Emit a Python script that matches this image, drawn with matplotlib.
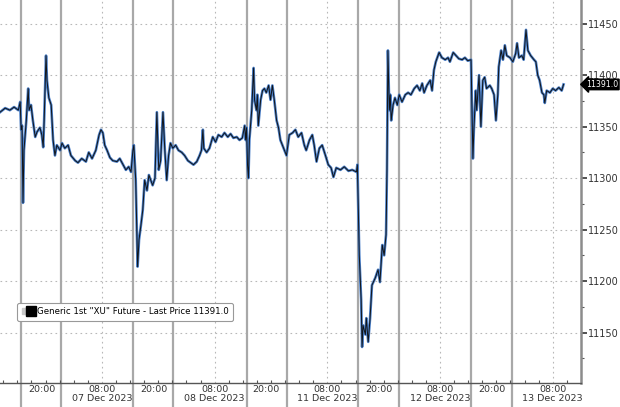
"""
Generic 1st "XU" Future, intraday, 6-13 Dec 2023.
"""
import matplotlib
matplotlib.use('Agg')
import matplotlib.pyplot as plt
import matplotlib.transforms as mtransforms
from matplotlib.lines import Line2D
from matplotlib.legend_handler import HandlerTuple

# trading hours since 6 Dec 08:00 (weekend taken out of the axis)
hours = [2.3, 3.4, 4.4, 5.3, 6.2, 6.6, 6.8, 7.0, 7.2, 7.4, 7.9, 8.3, 8.5, 8.9, 9.3, 9.8,
         10.2, 10.8, 11.2, 11.5, 11.7, 12.1, 12.3, 12.7, 13.2, 13.6, 14.0, 14.4, 15.1,
         15.5, 16.1, 16.8, 17.4, 18.3, 18.9, 19.7, 20.6, 21.2, 21.9, 22.7, 23.4, 23.8,
         24.2, 24.6, 25.1, 25.7, 26.3, 27.2, 27.8, 28.5, 29.1, 29.7, 30.2, 30.6, 30.8,
         31.2, 31.6, 31.9, 32.3, 32.7, 33.1, 33.6, 34.0, 34.4, 34.8, 35.3, 35.7, 35.9,
         36.1, 36.5, 37.0, 37.4, 37.8, 38.2, 38.6, 39.1, 39.7, 40.3, 41.0, 41.6, 42.3,
         42.9, 43.5, 44.2, 44.8, 45.2, 45.5, 45.7, 46.3, 46.9, 47.6, 48.2, 48.8, 49.5,
         50.1, 50.8, 51.4, 52.0, 52.7, 53.3, 53.9, 54.4, 54.6, 54.8, 55.0, 55.2, 55.4,
         55.9, 56.3, 56.5, 56.9, 57.1, 57.3, 57.8, 58.2, 58.6, 59.0, 59.5, 59.9, 60.3,
         60.7, 61.2, 61.6, 62.0, 62.7, 63.3, 63.9, 64.6, 65.2, 65.8, 66.5, 67.1, 67.5,
         68.2, 68.8, 69.2, 69.7, 70.3, 70.9, 71.6, 72.2, 72.8, 73.3, 73.9, 74.8, 75.6,
         76.5, 77.3, 78.2, 78.4, 78.8, 79.2, 79.4, 79.6, 80.1, 80.3, 80.7, 81.1, 81.5,
         82.2, 82.8, 83.2, 83.7, 84.1, 84.5, 84.7, 84.9, 85.2, 85.4, 85.6, 86.0, 86.4,
         86.9, 87.3, 87.9, 88.6, 89.2, 89.8, 90.5, 91.1, 91.7, 92.2, 92.6, 93.2, 93.9,
         94.3, 94.7, 95.1, 95.8, 96.4, 97.1, 97.7, 98.1, 98.8, 99.4, 100.0, 100.7, 101.3,
         101.9, 102.6, 102.8, 103.0, 103.2, 103.6, 103.8, 104.3, 104.7, 105.1, 105.5,
         105.9, 106.6, 107.0, 107.5, 107.9, 108.3, 108.5, 109.0, 109.4, 109.8, 110.2,
         110.9, 111.5, 112.1, 112.4, 112.8, 113.4, 113.8, 114.3, 114.7, 115.3, 116.0,
         116.4, 116.8, 117.2, 117.7, 118.1, 118.3, 118.7, 119.4, 120.0, 120.6, 121.3,
         121.9, 122.3]

price = [11364, 11368, 11366, 11369, 11366, 11374, 11347, 11351, 11276, 11327, 11356,
         11387, 11366, 11371, 11356, 11340, 11345, 11349, 11342, 11330, 11356, 11419,
         11395, 11378, 11371, 11337, 11322, 11332, 11327, 11334, 11329, 11332, 11322,
         11317, 11315, 11319, 11316, 11325, 11319, 11327, 11342, 11347, 11344, 11332,
         11327, 11320, 11317, 11316, 11319, 11313, 11308, 11311, 11306, 11327, 11332,
         11298, 11214, 11240, 11254, 11269, 11298, 11288, 11303, 11298, 11293, 11300,
         11364, 11337, 11308, 11317, 11364, 11327, 11298, 11322, 11334, 11329, 11332,
         11327, 11325, 11322, 11317, 11315, 11313, 11316, 11322, 11327, 11347, 11329,
         11325, 11329, 11340, 11335, 11342, 11340, 11344, 11340, 11343, 11339, 11340,
         11337, 11339, 11351, 11337, 11349, 11313, 11300, 11337, 11366, 11407, 11376,
         11366, 11381, 11351, 11376, 11385, 11387, 11383, 11390, 11376, 11390, 11376,
         11356, 11349, 11337, 11329, 11322, 11342, 11344, 11347, 11340, 11344, 11332,
         11327, 11337, 11342, 11332, 11316, 11329, 11332, 11322, 11313, 11310, 11301,
         11310, 11308, 11311, 11307, 11308, 11306, 11313, 11225, 11182, 11136, 11157,
         11148, 11164, 11141, 11164, 11196, 11203, 11211, 11199, 11235, 11225, 11245,
         11308, 11424, 11366, 11381, 11356, 11371, 11378, 11371, 11381, 11374, 11381,
         11383, 11381, 11387, 11390, 11385, 11392, 11383, 11390, 11395, 11385, 11405,
         11413, 11422, 11417, 11415, 11417, 11413, 11422, 11419, 11416, 11415, 11417,
         11414, 11415, 11366, 11319, 11347, 11385, 11366, 11400, 11350, 11395, 11398,
         11387, 11390, 11387, 11381, 11356, 11381, 11408, 11424, 11415, 11429, 11419,
         11417, 11413, 11421, 11431, 11417, 11419, 11415, 11444, 11424, 11419, 11415,
         11413, 11400, 11395, 11383, 11381, 11373, 11385, 11383, 11387, 11385, 11388,
         11385, 11391]

last_price = 11391.0
legend_label = 'Generic 1st "XU" Future - Last Price 11391.0'

# x axis labels
tick_hours = [11.2, 24, 35.0, 48, 59.0, 72, 83.0, 96, 107.0, 120]
tick_labels = ['20:00', '08:00\n07 Dec 2023', '20:00', '08:00\n08 Dec 2023',
               '20:00', '08:00\n11 Dec 2023', '20:00', '08:00\n12 Dec 2023',
               '20:00', '08:00\n13 Dec 2023']
# session breaks (solid grey lines)
break_hours = [6.8, 15.3, 30.6, 39.1, 54.8, 63.5, 78.6, 87.3, 102.6, 111.3]
y_ticks = [11150, 11200, 11250, 11300, 11350, 11400, 11450]

fig = plt.figure(figsize=(6.2, 4.07), dpi=100)
ax = fig.add_axes([0.0, 0.059, 0.937, 0.941])

ax.set_xlim(2.3, 126.0)
ax.set_ylim(11101, 11473)

# grid
for y in y_ticks:
    ax.axhline(y, color='#b8b8b8', lw=0.8, ls=(0, (1.5, 3)), zorder=1)
for h in [24, 48, 72, 96, 120]:
    ax.axvline(h, color='#b8b8b8', lw=0.8, ls=(0, (1.5, 3)), zorder=1)
trans = mtransforms.blended_transform_factory(ax.transData, ax.transAxes)
ax.vlines(break_hours, -0.065, 1, transform=trans, color='#a8a8a8', lw=1.6,
          clip_on=False, zorder=1)

# price line: blue body with dark line on top
ax.plot(hours, price, color='#4a7fc8', lw=1.9, zorder=2, solid_joinstyle='round')
ax.plot(hours, price, color='#111418', lw=0.7, zorder=3)

# axes styling
for s in ['top', 'left']:
    ax.spines[s].set_visible(False)
ax.spines['right'].set_color('#8c8c8c')
ax.spines['right'].set_linewidth(1.8)
ax.spines['bottom'].set_color('#555555')
ax.spines['bottom'].set_linewidth(1.0)

ax.yaxis.tick_right()
ax.set_yticks(y_ticks)
ax.set_yticks([11125, 11175, 11225, 11275, 11325, 11375, 11425], minor=True)
ax.tick_params(axis='y', which='major', length=4, width=1.2, color='#333333',
               labelsize=7, labelcolor='#333333', pad=1)
ax.tick_params(axis='y', which='minor', length=2, width=0.8, color='#555555')

ax.set_xticks(tick_hours)
ax.set_xticklabels(tick_labels, linespacing=1.0)
ax.set_xticks([h for h in range(3, 126, 3)], minor=True)
ax.tick_params(axis='x', which='major', length=0, labelsize=6.8,
               labelcolor='#333333', pad=1.5)
ax.tick_params(axis='x', which='minor', length=2, width=0.8, color='#555555',
               direction='in')

# last price tag
ytrans = mtransforms.blended_transform_factory(ax.transAxes, ax.transData)
ax.text(1.009, last_price, '%.1f' % last_price, transform=ytrans, color='white',
        fontsize=5.6, va='center', ha='left', zorder=5,
        bbox=dict(boxstyle='larrow,pad=0.1', fc='black', ec='black'))

# legend
h1 = Line2D([], [], ls='none', marker='s', ms=4.5, mfc='#c8c8c8', mec='#c8c8c8')
h2 = Line2D([], [], ls='none', marker='s', ms=6.5, mfc='black', mec='black')
leg = ax.legend([(h1, h2)], [legend_label], handler_map={tuple: HandlerTuple(ndivide=None, pad=0)},
                loc='upper left', bbox_to_anchor=(0.022, 0.22), fontsize=6.2,
                frameon=True, fancybox=True, handlelength=1.5, handletextpad=0.3,
                borderpad=0.5, framealpha=1)
leg.get_frame().set_edgecolor('#999999')
leg.get_frame().set_linewidth(0.8)

fig.savefig('out.png', dpi=100)
